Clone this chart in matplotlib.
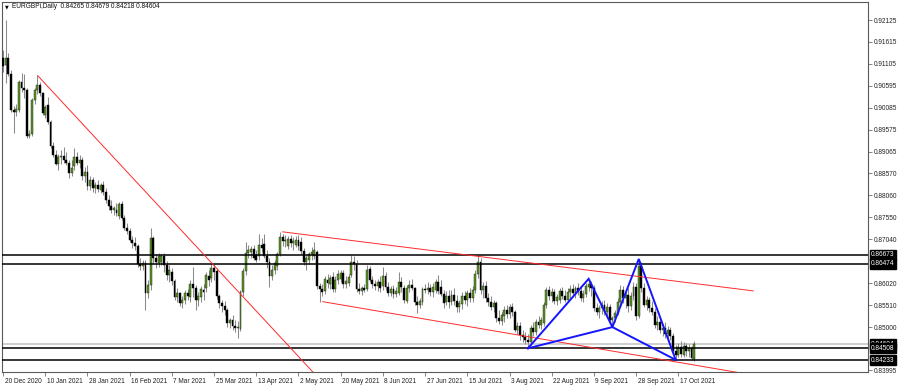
import matplotlib
matplotlib.use("Agg")
import matplotlib.pyplot as plt
import matplotlib.transforms as mtransforms
import numpy as np

plt.rcParams['font.family'] = ['Liberation Sans', 'DejaVu Sans']

symbol_title = "EURGBPi,Daily  0.84265 0.84679 0.84218 0.84604"

# daily OHLC, one value per bar
opens = [
    0.9124, 0.9108, 0.9124, 0.9087, 0.9004, 0.8999, 0.9004, 0.9069, 0.9055, 0.9050,
    0.8943, 0.8948, 0.9027, 0.9050, 0.9062, 0.9043, 0.8992, 0.9015, 0.8976, 0.8920,
    0.8899, 0.8878, 0.8895, 0.8897, 0.8888, 0.8881, 0.8858, 0.8874, 0.8895, 0.8881,
    0.8888, 0.8851, 0.8860, 0.8827, 0.8841, 0.8823, 0.8830, 0.8818, 0.8830, 0.8813,
    0.8795, 0.8781, 0.8772, 0.8772, 0.8758, 0.8786, 0.8753, 0.8730, 0.8723, 0.8702,
    0.8695, 0.8688, 0.8646, 0.8642, 0.8649, 0.8579, 0.8598, 0.8707, 0.8660, 0.8649,
    0.8651, 0.8665, 0.8644, 0.8621, 0.8628, 0.8607, 0.8570, 0.8579, 0.8556, 0.8563,
    0.8579, 0.8570, 0.8600, 0.8591, 0.8563, 0.8570, 0.8586, 0.8591, 0.8619, 0.8614,
    0.8637, 0.8630, 0.8572, 0.8556, 0.8549, 0.8540, 0.8510, 0.8516, 0.8503, 0.8498,
    0.8496, 0.8581, 0.8630, 0.8672, 0.8674, 0.8681, 0.8667, 0.8665, 0.8690, 0.8693,
    0.8665, 0.8651, 0.8619, 0.8632, 0.8642, 0.8670, 0.8709, 0.8700, 0.8688, 0.8704,
    0.8695, 0.8690, 0.8702, 0.8697, 0.8677, 0.8651, 0.8656, 0.8670, 0.8665, 0.8674,
    0.8595, 0.8588, 0.8584, 0.8609, 0.8600, 0.8616, 0.8588, 0.8609, 0.8612, 0.8626,
    0.8600, 0.8602, 0.8621, 0.8651, 0.8646, 0.8588, 0.8584, 0.8591, 0.8588, 0.8635,
    0.8609, 0.8600, 0.8595, 0.8605, 0.8595, 0.8619, 0.8593, 0.8579, 0.8588, 0.8577,
    0.8579, 0.8605, 0.8591, 0.8561, 0.8591, 0.8598, 0.8591, 0.8558, 0.8551, 0.8558,
    0.8588, 0.8586, 0.8591, 0.8581, 0.8586, 0.8605, 0.8593, 0.8577, 0.8558, 0.8572,
    0.8558, 0.8574, 0.8561, 0.8547, 0.8554, 0.8572, 0.8563, 0.8579, 0.8568, 0.8586,
    0.8623, 0.8651, 0.8586, 0.8595, 0.8568, 0.8558, 0.8547, 0.8556, 0.8521, 0.8514,
    0.8526, 0.8540, 0.8530, 0.8547, 0.8535, 0.8493, 0.8503, 0.8482, 0.8477, 0.8470,
    0.8466, 0.8498, 0.8489, 0.8512, 0.8505, 0.8510, 0.8551, 0.8586, 0.8572, 0.8581,
    0.8561, 0.8563, 0.8584, 0.8572, 0.8563, 0.8581, 0.8588, 0.8579, 0.8591, 0.8584,
    0.8568, 0.8577, 0.8593, 0.8600, 0.8591, 0.8544, 0.8535, 0.8544, 0.8551, 0.8535,
    0.8547, 0.8516, 0.8521, 0.8533, 0.8558, 0.8586, 0.8568, 0.8574, 0.8549, 0.8572,
    0.8593, 0.8526, 0.8642, 0.8591, 0.8551, 0.8563, 0.8544, 0.8535, 0.8505, 0.8512,
    0.8493, 0.8498, 0.8484, 0.8493, 0.8479, 0.8445, 0.8435, 0.8454, 0.8435, 0.8456,
    0.8445, 0.8452, 0.84265,
]
highs = [
    0.9143, 0.9212, 0.9136, 0.9096, 0.9013, 0.9018, 0.9073, 0.9090, 0.9087, 0.9055,
    0.8957, 0.9032, 0.9055, 0.9085, 0.9069, 0.9045, 0.9015, 0.9034, 0.8980, 0.8929,
    0.8911, 0.8902, 0.8911, 0.8918, 0.8906, 0.8888, 0.8888, 0.8916, 0.8906, 0.8899,
    0.8895, 0.8871, 0.8876, 0.8851, 0.8848, 0.8837, 0.8841, 0.8834, 0.8839, 0.8823,
    0.8806, 0.8795, 0.8781, 0.8788, 0.8790, 0.8793, 0.8760, 0.8742, 0.8730, 0.8711,
    0.8709, 0.8693, 0.8660, 0.8656, 0.8656, 0.8609, 0.8730, 0.8711, 0.8670, 0.8672,
    0.8670, 0.8672, 0.8653, 0.8644, 0.8637, 0.8612, 0.8591, 0.8581, 0.8572, 0.8586,
    0.8588, 0.8609, 0.8639, 0.8598, 0.8581, 0.8595, 0.8600, 0.8628, 0.8632, 0.8649,
    0.8646, 0.8637, 0.8577, 0.8563, 0.8561, 0.8544, 0.8521, 0.8528, 0.8516, 0.8514,
    0.8586, 0.8637, 0.8697, 0.8690, 0.8688, 0.8690, 0.8679, 0.8716, 0.8707, 0.8716,
    0.8679, 0.8660, 0.8644, 0.8656, 0.8674, 0.8721, 0.8716, 0.8714, 0.8711, 0.8714,
    0.8709, 0.8711, 0.8714, 0.8709, 0.8684, 0.8667, 0.8674, 0.8686, 0.8697, 0.8679,
    0.8602, 0.8600, 0.8619, 0.8623, 0.8621, 0.8628, 0.8619, 0.8632, 0.8632, 0.8632,
    0.8619, 0.8623, 0.8667, 0.8665, 0.8656, 0.8602, 0.8595, 0.8600, 0.8644, 0.8642,
    0.8619, 0.8609, 0.8612, 0.8619, 0.8639, 0.8628, 0.8605, 0.8595, 0.8598, 0.8593,
    0.8628, 0.8616, 0.8598, 0.8598, 0.8609, 0.8612, 0.8593, 0.8572, 0.8568, 0.8593,
    0.8600, 0.8605, 0.8600, 0.8602, 0.8612, 0.8621, 0.8609, 0.8586, 0.8584, 0.8586,
    0.8586, 0.8591, 0.8574, 0.8563, 0.8581, 0.8584, 0.8586, 0.8591, 0.8595, 0.8632,
    0.8667, 0.8660, 0.8605, 0.8607, 0.8579, 0.8572, 0.8563, 0.8561, 0.8540, 0.8535,
    0.8549, 0.8551, 0.8554, 0.8556, 0.8540, 0.8512, 0.8512, 0.8493, 0.8489, 0.8484,
    0.8505, 0.8512, 0.8519, 0.8526, 0.8523, 0.8558, 0.8593, 0.8595, 0.8591, 0.8588,
    0.8577, 0.8591, 0.8593, 0.8586, 0.8591, 0.8598, 0.8600, 0.8595, 0.8602, 0.8595,
    0.8586, 0.8602, 0.8612, 0.8607, 0.8598, 0.8556, 0.8551, 0.8561, 0.8563, 0.8556,
    0.8554, 0.8526, 0.8540, 0.8568, 0.8598, 0.8595, 0.8581, 0.8591, 0.8581, 0.8605,
    0.8602, 0.8658, 0.8651, 0.8602, 0.8572, 0.8570, 0.8561, 0.8544, 0.8526, 0.8521,
    0.8507, 0.8512, 0.8503, 0.8500, 0.8486, 0.8459, 0.8463, 0.8468, 0.8466, 0.8463,
    0.8461, 0.8456, 0.84679,
]
lows = [
    0.9092, 0.9066, 0.9083, 0.8999, 0.8950, 0.8990, 0.8999, 0.9045, 0.9032, 0.8939,
    0.8939, 0.8943, 0.9018, 0.9041, 0.9036, 0.8992, 0.8985, 0.8971, 0.8916, 0.8895,
    0.8876, 0.8864, 0.8878, 0.8881, 0.8876, 0.8846, 0.8851, 0.8864, 0.8876, 0.8869,
    0.8841, 0.8837, 0.8818, 0.8818, 0.8813, 0.8811, 0.8813, 0.8811, 0.8806, 0.8788,
    0.8772, 0.8765, 0.8760, 0.8758, 0.8751, 0.8748, 0.8725, 0.8716, 0.8697, 0.8684,
    0.8679, 0.8639, 0.8632, 0.8632, 0.8540, 0.8568, 0.8586, 0.8646, 0.8637, 0.8639,
    0.8644, 0.8628, 0.8609, 0.8605, 0.8598, 0.8563, 0.8558, 0.8549, 0.8544, 0.8554,
    0.8563, 0.8558, 0.8570, 0.8540, 0.8549, 0.8558, 0.8563, 0.8581, 0.8595, 0.8605,
    0.8609, 0.8565, 0.8544, 0.8535, 0.8528, 0.8500, 0.8498, 0.8493, 0.8489, 0.8475,
    0.8491, 0.8572, 0.8621, 0.8660, 0.8660, 0.8656, 0.8651, 0.8656, 0.8674, 0.8660,
    0.8637, 0.8593, 0.8609, 0.8623, 0.8632, 0.8665, 0.8688, 0.8686, 0.8681, 0.8686,
    0.8679, 0.8686, 0.8679, 0.8670, 0.8644, 0.8632, 0.8646, 0.8656, 0.8658, 0.8588,
    0.8558, 0.8572, 0.8577, 0.8591, 0.8588, 0.8581, 0.8581, 0.8600, 0.8605, 0.8591,
    0.8591, 0.8595, 0.8616, 0.8632, 0.8581, 0.8577, 0.8574, 0.8581, 0.8584, 0.8605,
    0.8591, 0.8586, 0.8584, 0.8581, 0.8586, 0.8586, 0.8572, 0.8572, 0.8568, 0.8570,
    0.8574, 0.8581, 0.8556, 0.8556, 0.8581, 0.8586, 0.8551, 0.8533, 0.8544, 0.8551,
    0.8579, 0.8577, 0.8572, 0.8570, 0.8579, 0.8577, 0.8572, 0.8544, 0.8551, 0.8544,
    0.8551, 0.8551, 0.8535, 0.8535, 0.8542, 0.8554, 0.8549, 0.8558, 0.8558, 0.8579,
    0.8614, 0.8577, 0.8568, 0.8558, 0.8549, 0.8540, 0.8535, 0.8512, 0.8507, 0.8505,
    0.8512, 0.8521, 0.8521, 0.8526, 0.8489, 0.8484, 0.8470, 0.8466, 0.8461, 0.8451,
    0.8459, 0.8479, 0.8482, 0.8498, 0.8496, 0.8503, 0.8544, 0.8563, 0.8558, 0.8554,
    0.8551, 0.8556, 0.8565, 0.8558, 0.8558, 0.8568, 0.8572, 0.8568, 0.8574, 0.8561,
    0.8558, 0.8570, 0.8584, 0.8572, 0.8537, 0.8528, 0.8521, 0.8530, 0.8528, 0.8521,
    0.8512, 0.8500, 0.8512, 0.8528, 0.8551, 0.8556, 0.8544, 0.8535, 0.8540, 0.8563,
    0.8516, 0.8521, 0.8581, 0.8547, 0.8540, 0.8535, 0.8528, 0.8498, 0.8493, 0.8486,
    0.8479, 0.8475, 0.8475, 0.8470, 0.8440, 0.8424, 0.8431, 0.8431, 0.8431, 0.8433,
    0.8431, 0.8424, 0.84218,
]
closes = [
    0.9106, 0.9124, 0.9087, 0.9004, 0.8999, 0.9006, 0.9069, 0.9055, 0.9050, 0.8943,
    0.8948, 0.9027, 0.9050, 0.9062, 0.9043, 0.8997, 0.9011, 0.8976, 0.8920, 0.8899,
    0.8878, 0.8895, 0.8897, 0.8888, 0.8881, 0.8858, 0.8869, 0.8895, 0.8881, 0.8888,
    0.8851, 0.8860, 0.8827, 0.8841, 0.8823, 0.8830, 0.8820, 0.8830, 0.8813, 0.8795,
    0.8781, 0.8772, 0.8776, 0.8765, 0.8786, 0.8753, 0.8730, 0.8723, 0.8702, 0.8695,
    0.8688, 0.8646, 0.8642, 0.8649, 0.8579, 0.8598, 0.8707, 0.8660, 0.8651, 0.8665,
    0.8665, 0.8644, 0.8621, 0.8632, 0.8607, 0.8570, 0.8579, 0.8556, 0.8563, 0.8579,
    0.8572, 0.8600, 0.8591, 0.8563, 0.8572, 0.8588, 0.8581, 0.8621, 0.8609, 0.8637,
    0.8628, 0.8572, 0.8556, 0.8549, 0.8540, 0.8510, 0.8516, 0.8503, 0.8498, 0.8500,
    0.8581, 0.8630, 0.8672, 0.8679, 0.8681, 0.8660, 0.8656, 0.8690, 0.8684, 0.8665,
    0.8651, 0.8619, 0.8632, 0.8649, 0.8670, 0.8709, 0.8700, 0.8702, 0.8704, 0.8695,
    0.8700, 0.8702, 0.8688, 0.8677, 0.8651, 0.8660, 0.8670, 0.8674, 0.8679, 0.8595,
    0.8588, 0.8581, 0.8612, 0.8602, 0.8614, 0.8588, 0.8609, 0.8623, 0.8626, 0.8600,
    0.8607, 0.8616, 0.8651, 0.8646, 0.8588, 0.8584, 0.8591, 0.8586, 0.8632, 0.8609,
    0.8600, 0.8595, 0.8605, 0.8591, 0.8619, 0.8593, 0.8579, 0.8588, 0.8577, 0.8584,
    0.8605, 0.8593, 0.8563, 0.8591, 0.8598, 0.8591, 0.8558, 0.8551, 0.8561, 0.8588,
    0.8586, 0.8591, 0.8581, 0.8593, 0.8605, 0.8584, 0.8577, 0.8556, 0.8572, 0.8558,
    0.8574, 0.8561, 0.8547, 0.8556, 0.8572, 0.8563, 0.8579, 0.8568, 0.8586, 0.8623,
    0.8651, 0.8586, 0.8595, 0.8568, 0.8558, 0.8547, 0.8556, 0.8521, 0.8514, 0.8528,
    0.8540, 0.8530, 0.8547, 0.8535, 0.8493, 0.8503, 0.8482, 0.8477, 0.8470, 0.8466,
    0.8498, 0.8489, 0.8512, 0.8505, 0.8516, 0.8551, 0.8586, 0.8572, 0.8581, 0.8561,
    0.8570, 0.8584, 0.8572, 0.8563, 0.8581, 0.8588, 0.8579, 0.8591, 0.8584, 0.8568,
    0.8577, 0.8595, 0.8600, 0.8591, 0.8544, 0.8535, 0.8544, 0.8551, 0.8535, 0.8547,
    0.8516, 0.8521, 0.8533, 0.8558, 0.8586, 0.8568, 0.8574, 0.8549, 0.8572, 0.8593,
    0.8526, 0.8642, 0.8591, 0.8551, 0.8563, 0.8544, 0.8535, 0.8505, 0.8512, 0.8493,
    0.8498, 0.8484, 0.8493, 0.8479, 0.8445, 0.8435, 0.8454, 0.8438, 0.8456, 0.8445,
    0.8452, 0.8428, 0.84604,
]

# x axis labels sit every 16 bars
date_labels = ['20 Dec 2020', '10 Jan 2021', '28 Jan 2021', '16 Feb 2021', '7 Mar 2021',
               '25 Mar 2021', '13 Apr 2021', '2 May 2021', '20 May 2021', '8 Jun 2021',
               '27 Jun 2021', '15 Jul 2021', '3 Aug 2021', '22 Aug 2021', '9 Sep 2021',
               '28 Sep 2021', '17 Oct 2021']
date_label_bars = [0, 16, 32, 48, 64, 80, 96, 112, 128, 144, 160, 176, 192, 208, 224, 240, 256]

price_ticks = [0.92125, 0.91615, 0.91105, 0.90595, 0.90085, 0.89575, 0.89065, 0.88570,
               0.88060, 0.87550, 0.87040, 0.86020, 0.85510, 0.85000, 0.83995]

levels = [0.86673, 0.86474, 0.84508, 0.84233]
bid_price = 0.84604

# trend lines as (bars, prices) anchor pairs
down_trend = ([13.2, 120.0], [0.9083, 0.8379])
channel_top = ([106.0, 284.4], [0.8721, 0.8584])
channel_bottom = ([121.2, 285.0], [0.8559, 0.8388])

# harmonic pattern points X, A, B, C, D
pattern_bars = [199, 222, 231, 241, 255]
pattern_prices = [0.84508, 0.8612, 0.8500, 0.8658, 0.8424]

fig = plt.figure(figsize=(9.0, 3.86), dpi=100)
ax = fig.add_axes([2 / 900, 14 / 386, 866 / 900, 370 / 386])
ax.set_xlim(-0.4, 327.9)
ax.set_ylim(0.83958, 0.92543)

o = np.array(opens)
h = np.array(highs)
l = np.array(lows)
c = np.array(closes)
x = np.arange(len(c))
up = c >= o

body_lo = np.minimum(o, c)
body_h = np.maximum(np.abs(c - o), 0.00006)

ax.vlines(x, l, h, color='#8a8a8a', lw=0.75, zorder=2)
ax.bar(x[up], body_h[up], bottom=body_lo[up], width=0.72, color='#5a9a1c',
       edgecolor='#1e1e1e', linewidth=0.3, zorder=3)
ax.bar(x[~up], body_h[~up], bottom=body_lo[~up], width=0.72, color='black',
       edgecolor='black', linewidth=0.3, zorder=3)

# horizontal levels + bid line
ax.axhline(bid_price, color='#cccccc', lw=1.3, zorder=1)
for lv in levels:
    ax.axhline(lv, color='black', lw=1.1, zorder=4)

# trend / channel lines
for bars, prices in (down_trend, channel_top, channel_bottom):
    ax.plot(bars, prices, color='#ff2a2a', lw=0.7, zorder=4)

# pattern legs
px = pattern_bars
pp = pattern_prices
ax.plot(px, pp, color='#1414ff', lw=1.4, zorder=5, solid_joinstyle='miter')
ax.plot([px[0], px[2], px[4]], [pp[0], pp[2], pp[4]], color='#1414ff', lw=1.4, zorder=5)

# axes styling
for sp in ax.spines.values():
    sp.set_color('#5a5a5a')
    sp.set_linewidth(0.8)

ax.yaxis.tick_right()
ax.set_yticks(price_ticks)
ax.set_yticklabels([f'{p:.5f}' for p in price_ticks])
ax.tick_params(axis='y', length=3, width=0.6, pad=1.5, labelsize=4.7,
               color='#707070', labelcolor='#202020')

ax.set_xticks(date_label_bars)
ax.set_xticklabels(date_labels, ha='left')
ax.tick_params(axis='x', length=3, width=0.6, pad=1.5, labelsize=4.7,
               color='#707070', labelcolor='#202020')
shift = mtransforms.ScaledTranslation(0.015, 0, fig.dpi_scale_trans)
for lbl in ax.get_xticklabels():
    lbl.set_transform(lbl.get_transform() + shift)

# price boxes on the right scale
trans = mtransforms.blended_transform_factory(ax.transAxes, ax.transData)
box = dict(boxstyle='square,pad=0.22', fc='black', ec='black')
ax.text(1.0 + 3 / 866, bid_price, f'{bid_price:.5f}', transform=trans, fontsize=4.7,
        color='white', va='center', ha='left', bbox=box, clip_on=False, zorder=6)
for lv in levels:
    ax.text(1.0 + 3 / 866, lv, f'{lv:.5f}', transform=trans, fontsize=4.7,
            color='white', va='center', ha='left', bbox=box, clip_on=False, zorder=7)

fig.text(5 / 900, 1 - 7 / 386, '\u25bc', fontsize=3.5, family='DejaVu Sans',
         va='center', ha='left')
fig.text(12 / 900, 1 - 7 / 386, symbol_title, fontsize=4.7, va='center', ha='left',
         color='#101010')

fig.savefig('out.png', dpi=100)
